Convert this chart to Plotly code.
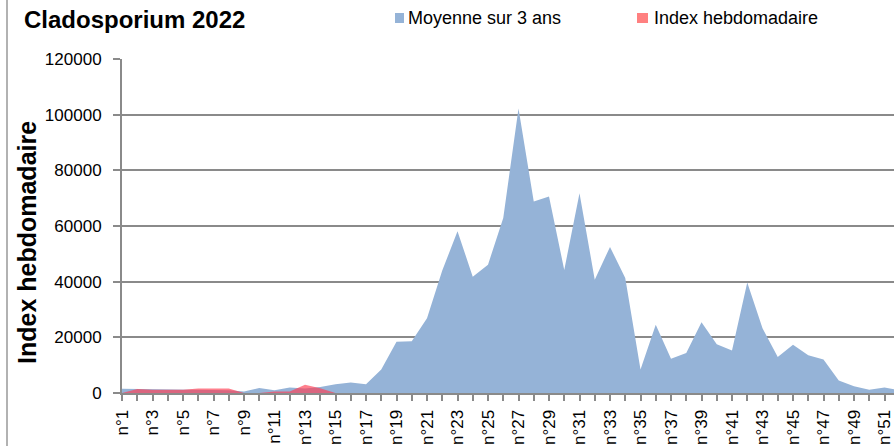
import plotly.graph_objects as go

weeks = list(range(1, 53))
week_labels = [f"n°{w}" for w in weeks]

moyenne_3ans = [1500, 1400, 1300, 1200, 1200, 1000, 1000, 1000, 500, 1800,
                1000, 2000, 1600, 2200, 3100, 3800, 3100, 8400, 18400, 18600,
                26900, 44000, 58100, 41800, 46100, 62900, 102200, 68800, 70600, 44200,
                71800, 40700, 52500, 41300, 8400, 24500, 12300, 14400, 25400, 17500,
                15300, 39700, 23300, 12900, 17300, 13600, 12000, 4500, 2400, 1200,
                2000, 1000]

index_weeks = list(range(1, 16))
index_hebdo = [0, 1400, 1200, 1100, 1200, 1600, 1600, 1600, 0, 0,
               500, 500, 3000, 1700, 0]

tick_weeks = [w for w in weeks if w % 2 == 1]
tick_text = [f"n°{w}" for w in tick_weeks]

BLUE = "#95B3D7"
RED_FILL = "rgba(255,60,80,0.65)"
RED_SWATCH = "#FF8080"
GRID = "#8A8A8A"
FONT = "Liberation Sans"

fig = go.Figure()
fig.add_trace(go.Scatter(x=weeks, y=moyenne_3ans, mode="lines", fill="tozeroy",
                         fillcolor=BLUE, line=dict(width=0, color=BLUE),
                         name="Moyenne sur 3 ans", showlegend=False, hoverinfo="skip"))
fig.add_trace(go.Scatter(x=index_weeks, y=index_hebdo, mode="lines", fill="tozeroy",
                         fillcolor=RED_FILL, line=dict(width=0, color=RED_FILL),
                         name="Index hebdomadaire", showlegend=False, hoverinfo="skip"))

W, H = 894, 446
L, R, T, B = 122, 0, 59, 53
pw = W - L - R
ph = H - T - B

def px_x(x):
    return (x - L) / pw

def px_y(y):
    return (H - B - y) / ph

fig.update_layout(
    width=W, height=H,
    margin=dict(l=L, r=R, t=T, b=B, pad=0),
    paper_bgcolor="white", plot_bgcolor="white",
    font=dict(family=FONT, size=18, color="black"),
    showlegend=False,
    xaxis=dict(
        range=[1, 1 + pw / 15.25],
        tickmode="array", tickvals=tick_weeks, ticktext=tick_text,
        tickangle=-90, ticks="outside", ticklen=6, tickwidth=1.5, tickcolor=GRID,
        minor=dict(dtick=1, tick0=1, ticks="outside", ticklen=6, tickwidth=1.5, tickcolor=GRID, showgrid=False),
        showline=True, linecolor=GRID, linewidth=2,
        showgrid=False, zeroline=False, automargin=False,
        tickfont=dict(family=FONT, size=17, color="black"),
        ticklabelstandoff=2, ticklabeloverflow="allow",
    ),
    yaxis=dict(
        range=[0, 120000], tickmode="linear", tick0=0, dtick=20000, tickformat="d",
        ticks="outside", ticklen=7, tickwidth=1.5, tickcolor=GRID,
        showline=True, linecolor=GRID, linewidth=2,
        showgrid=True, gridcolor=GRID, gridwidth=2,
        zeroline=False, automargin=False,
        tickfont=dict(family=FONT, size=17, color="black"),
        ticklabelstandoff=8,
    ),
)

annotations = [
    dict(text="<b>Cladosporium 2022</b>", x=px_x(22), y=px_y(20), xref="paper", yref="paper",
         xanchor="left", yanchor="middle", showarrow=False,
         font=dict(family=FONT, size=24, color="black")),
    dict(text="<b>Index hebdomadaire</b>", x=px_x(27), y=px_y(243), xref="paper", yref="paper",
         xanchor="center", yanchor="middle", textangle=-90, showarrow=False,
         font=dict(family=FONT, size=25, color="black")),
    dict(text="Moyenne sur 3 ans", x=px_x(406), y=px_y(18), xref="paper", yref="paper",
         xanchor="left", yanchor="middle", showarrow=False,
         font=dict(family=FONT, size=18, color="black")),
    dict(text="Index hebdomadaire", x=px_x(652), y=px_y(18), xref="paper", yref="paper",
         xanchor="left", yanchor="middle", showarrow=False,
         font=dict(family=FONT, size=18, color="black")),
]
fig.update_layout(annotations=annotations)

shapes = [
    dict(type="rect", xref="paper", yref="paper", x0=px_x(395), x1=px_x(404), y0=px_y(23), y1=px_y(13),
         fillcolor=BLUE, line=dict(width=0)),
    dict(type="rect", xref="paper", yref="paper", x0=px_x(637), x1=px_x(648), y0=px_y(23), y1=px_y(13),
         fillcolor=RED_SWATCH, line=dict(width=0)),
    dict(type="line", xref="paper", yref="paper", x0=px_x(7), x1=px_x(7), y0=px_y(0), y1=px_y(446),
         line=dict(color="#999999", width=1.5)),
]
fig.update_layout(shapes=shapes)

fig.write_html("out.html", config={"displayModeBar": False},
               post_script="document.body.style.margin='0';document.body.style.overflow='hidden';")
